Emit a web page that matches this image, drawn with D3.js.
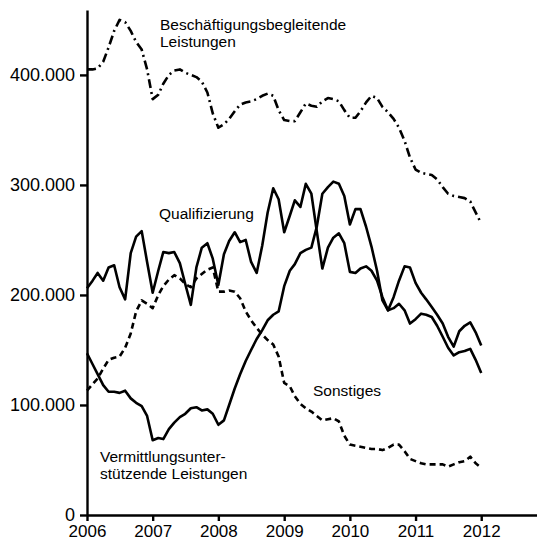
<!DOCTYPE html>
<html>
<head>
<style type="text/css">
body {
	margin: 0;
	background: #fff;
}
.pathline {
	stroke: #000;
	stroke-width: 2.6;
	fill: none;
	stroke-linejoin: round;
}
#besch {
	stroke-dasharray: 9,4,2,4;
}
#sonst {
	stroke-dasharray: 6,4;
}
.axis path, .axis line {
	stroke: #000;
	stroke-width: 2.4;
}
.lbl {
	font-family: "Liberation Sans", Arial, sans-serif;
	font-size: 15.5px;
	fill: #000;
}
</style>
<script src="https://d3js.org/d3.v7.min.js"></script>
</head>
<body>
<script type="text/javascript">
var width  = 537;
var height = 542;

// monthly values Jan 2006 .. Jan 2012, in thousands
var besch = [405,405,406,412,425,440,450,448,440,430,423,405,
	378,382,392,400,404,405,402,400,398,394,384,365,
	352,355,360,367,373,375,376,378,381,383,381,368,
	359,358,358,366,374,372,371,376,379,378,376,368,
	361,361,367,375,381,379,371,366,360,352,340,325,
	314,311,310,309,305,298,292,290,289,288,285,275,
	265];
var quali = [206,213,220,213,225,227,207,196,238,253,258,230,
	202,222,239,238,239,229,210,191,225,243,247,233,
	209,237,249,257,248,250,230,220,245,275,297,287,
	257,272,286,280,301,292,258,224,243,252,256,247,
	221,220,224,226,222,213,198,186,198,213,226,225,
	211,202,196,189,182,174,162,153,167,172,175,166,
	154];
var vermi = [147,137,128,118,112,112,111,113,106,102,99,90,
	68,70,69,78,84,89,92,97,98,95,96,92,
	82,86,100,115,128,140,150,160,168,177,182,185,
	208,222,228,238,241,243,262,292,298,303,301,290,
	264,278,278,262,244,222,195,186,188,192,186,174,
	178,183,182,180,172,162,152,145,148,149,151,141,
	129];
var sonst = [113,119,124,133,141,143,144,152,165,185,195,192,
	188,200,208,214,218,215,210,207,215,219,223,225,
	203,203,204,203,197,185,177,170,164,159,155,144,
	120,117,108,101,97,94,90,86,87,88,85,72,
	64,63,62,61,60,60,59,61,64,64,58,51,
	49,47,46,46,46,46,44,46,48,49,53,47,
	43];
var yTicks = [0,100000,200000,300000,400000];
var xTicks = [2006,2007,2008,2009,2010,2011,2012];

var months = d3.timeMonth.range(new Date(2006,0,1), new Date(2012,1,1));

var x = d3.scaleTime().domain([new Date(2006,0,1), new Date(2012,10,6)]).range([87, 537]);
var y = d3.scaleLinear().domain([0, 459000]).range([515, 10]);

var de = d3.formatLocale({decimal: ",", thousands: ".", grouping: [3], currency: ["", " €"]});

var svg = d3.select("body").append("svg").attr("width", width).attr("height", height);

var line = d3.line().
	x(function(d,i){ return x(months[i]); }).
	y(function(d){ return y(d * 1000); });

svg.append("path").data([besch]).attr("class", "pathline").attr("id", "besch").attr("d", line);
svg.append("path").data([quali]).attr("class", "pathline").attr("id", "quali").attr("d", line);
svg.append("path").data([vermi]).attr("class", "pathline").attr("id", "vermi").attr("d", line);
svg.append("path").data([sonst]).attr("class", "pathline").attr("id", "sonst").attr("d", line);

var xAxis = d3.axisBottom(x).
	tickValues(xTicks.map(function(t){ return new Date(t,0,1); })).
	tickFormat(d3.timeFormat("%Y")).
	tickSizeInner(6).tickSizeOuter(0).tickPadding(4);
svg.append("g").attr("class", "axis xaxis").attr("transform", "translate(0,515)").call(xAxis);

var yAxis = d3.axisLeft(y).
	tickValues(yTicks).
	tickFormat(de.format(",")).
	tickSizeInner(7).tickSizeOuter(0).tickPadding(5);
svg.append("g").attr("class", "axis yaxis").attr("transform", "translate(87,0)").call(yAxis);

svg.selectAll(".axis text").style("font-family", "'Liberation Sans', Arial, sans-serif").style("fill", "#000");
svg.selectAll(".yaxis text").style("font-size", "18px");
svg.selectAll(".xaxis text").style("font-size", "17px");

// series labels
var labels = [
	{t: "Beschäftigungsbegleitende", x: 160, y: 30},
	{t: "Leistungen", x: 160, y: 47},
	{t: "Qualifizierung", x: 159, y: 219},
	{t: "Sonstiges", x: 313, y: 396},
	{t: "Vermittlungsunter-", x: 100, y: 462},
	{t: "stützende Leistungen", x: 100, y: 479}
];
svg.selectAll(".lbl").data(labels).enter().append("text").
	attr("class", "lbl").
	attr("x", function(d){ return d.x; }).
	attr("y", function(d){ return d.y; }).
	text(function(d){ return d.t; });
</script>
</body>
</html>
